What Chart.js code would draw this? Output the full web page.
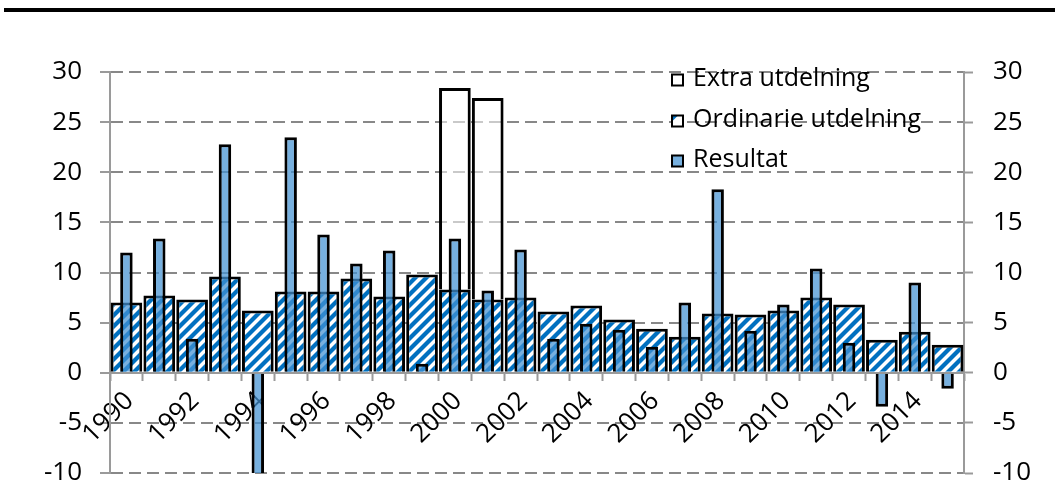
<!DOCTYPE html>
<html>
<head>
<meta charset="utf-8">
<script src="https://cdn.jsdelivr.net/npm/chart.js@4.4.1/dist/chart.umd.min.js"></script>
<style>
  html, body { margin: 0; padding: 0; background: #fff; }
  #wrap { position: relative; width: 1055px; height: 486px; overflow: hidden; }
  #rule { position: absolute; left: 4px; right: 0; top: 8px; height: 4px; background: #000; }
  #c { position: absolute; left: 0; top: 0; }
</style>
</head>
<body>
<div id="wrap">
  <div id="rule"></div>
  <canvas id="c" width="1055" height="486"></canvas>
</div>
<script>
// Years on the category axis
const years = [1990, 1991, 1992, 1993, 1994, 1995, 1996, 1997, 1998, 1999,
               2000, 2001, 2002, 2003, 2004, 2005, 2006, 2007, 2008, 2009,
               2010, 2011, 2012, 2013, 2014, 2015];

// Ordinary dividend, per cent
const ordinarie = [7.0, 7.7, 7.3, 9.6, 6.2, 8.1, 8.1, 9.4, 7.6, 9.8,
                   8.3, 7.3, 7.5, 6.1, 6.7, 5.3, 4.4, 3.6, 5.9, 5.8,
                   6.2, 7.5, 6.8, 3.3, 4.1, 2.8];

// Extra dividend, stacked on top of the ordinary one
const extra = [null, null, null, null, null, null, null, null, null, null,
               20.1, 20.1, null, null, null, null, null, null, null, null,
               null, null, null, null, null, null];

// Result
const resultat = [12.0, 13.4, 3.4, 22.8, -11.0, 23.5, 13.8, 10.9, 12.2, 0.9,
                  13.4, 8.2, 12.3, 3.4, 4.9, 4.3, 2.6, 7.0, 18.3, 4.2,
                  6.8, 10.4, 3.0, -3.4, 9.0, -1.6];

// Value axis tick labels (both sides)
const yTicks = [-10, -5, 0, 5, 10, 15, 20, 25, 30];

// Series names, in legend order
const seriesNames = ['Extra utdelning', 'Ordinarie utdelning', 'Resultat'];

const FONT = '"Open Sans", "Noto Sans", sans-serif';
const BLUE = '#0070C0';

// Diagonal blue/white hatch used for the ordinary dividend
function makeHatch() {
  const s = 11;
  const c = document.createElement('canvas');
  c.width = s; c.height = s;
  const g = c.getContext('2d');
  g.fillStyle = '#fff';
  g.fillRect(0, 0, s, s);
  g.strokeStyle = BLUE;
  g.lineWidth = 4.2;
  g.lineCap = 'square';
  for (const k of [-s, 0, s]) {
    g.beginPath();
    g.moveTo(k - 2, s + 2);
    g.lineTo(k + s + 2, -2);
    g.stroke();
  }
  return g.createPattern(c, 'repeat');
}
const hatch = makeHatch();

Chart.defaults.font.family = FONT;
Chart.defaults.font.size = 26;
Chart.defaults.color = '#000';

// Legend drawn inside the plot area, top right
const insideLegend = {
  id: 'insideLegend',
  afterDraw(chart) {
    const ctx = chart.ctx;
    const area = chart.chartArea;
    const bx = area.right - 292;
    const rows = [area.top + 7, area.top + 48, area.top + 88];
    const box = 11;
    ctx.save();
    seriesNames.forEach((name, i) => {
      const ds = chart.data.datasets.find(d => d.label === name);
      const cy = rows[i];
      const y0 = cy - box / 2 + 1;
      ctx.fillStyle = '#fff';
      ctx.fillRect(bx, y0, box, box);
      if (name === 'Ordinarie utdelning') {
        ctx.fillStyle = BLUE;
        ctx.beginPath();
        ctx.moveTo(bx, y0);
        ctx.lineTo(bx + 6, y0);
        ctx.lineTo(bx, y0 + 6);
        ctx.closePath();
        ctx.fill();
      } else {
        ctx.fillStyle = ds.backgroundColor;
        ctx.fillRect(bx, y0, box, box);
      }
      ctx.lineWidth = 2;
      ctx.strokeStyle = '#000';
      ctx.strokeRect(bx, y0, box, box);
      ctx.fillStyle = '#000';
      ctx.font = '25px ' + FONT;
      ctx.textBaseline = 'middle';
      ctx.textAlign = 'left';
      ctx.fillText(name, bx + 21, cy);
    });
    ctx.restore();
  }
};

function fixedWidth(w) {
  return scale => {
    scale.width = w;
    scale.paddingTop = 0;
    scale.paddingBottom = 0;
  };
}

new Chart(document.getElementById('c'), {
  type: 'bar',
  data: {
    labels: years,
    datasets: [
      {
        label: 'Resultat',
        data: resultat,
        backgroundColor: 'rgba(66,146,210,0.72)',
        borderColor: '#000',
        borderWidth: 3,
        barPercentage: 0.38,
        categoryPercentage: 1,
        grouped: false,
        stack: 'res',
        order: 0
      },
      {
        label: 'Ordinarie utdelning',
        data: ordinarie,
        backgroundColor: hatch,
        borderColor: '#000',
        borderWidth: 3,
        barPercentage: 0.965,
        categoryPercentage: 1,
        grouped: false,
        stack: 'utd',
        order: 1
      },
      {
        label: 'Extra utdelning',
        data: extra,
        backgroundColor: 'rgba(255,255,255,0.55)',
        borderColor: '#000',
        borderWidth: 3,
        barPercentage: 0.965,
        categoryPercentage: 1,
        grouped: false,
        stack: 'utd',
        order: 2
      }
    ]
  },
  options: {
    responsive: false,
    animation: false,
    devicePixelRatio: 1,
    layout: { padding: { top: 72, bottom: 13, left: 0, right: 0 } },
    plugins: { legend: { display: false }, tooltip: { enabled: false } },
    scales: {
      x: {
        position: { y: 0 },
        offset: true,
        grid: {
          offset: true,
          drawOnChartArea: false,
          drawTicks: true,
          tickLength: 7,
          tickColor: '#9a9a9a',
          tickWidth: 2,
          tickBorderDash: []
        },
        border: { display: true, color: '#9a9a9a', width: 2 },
        ticks: {
          autoSkip: false,
          minRotation: 45,
          maxRotation: 45,
          padding: 6,
          labelOffset: 3,
          color: '#000',
          font: { size: 26 },
          callback: (v, i) => (i % 2 === 0 ? String(years[i]) : '')
        },
        afterFit: scale => {
          scale.height = 0;
          scale.paddingLeft = 0;
          scale.paddingRight = 0;
        }
      },
      y: {
        position: 'left',
        stacked: true,
        min: yTicks[0],
        max: yTicks[yTicks.length - 1],
        afterBuildTicks: s => { s.ticks = yTicks.map(v => ({ value: v })); },
        grid: {
          color: '#888',
          lineWidth: 2,
          tickLength: 10,
          tickColor: '#9a9a9a',
          tickWidth: 2,
          tickBorderDash: []
        },
        border: { display: true, color: '#9a9a9a', width: 2, dash: [12, 6] },
        ticks: { padding: 18, color: '#000', font: { size: 26 } },
        afterFit: fixedWidth(110)
      },
      y2: {
        position: 'right',
        min: yTicks[0],
        max: yTicks[yTicks.length - 1],
        afterBuildTicks: s => { s.ticks = yTicks.map(v => ({ value: v })); },
        grid: {
          drawOnChartArea: false,
          tickLength: 9,
          tickColor: '#9a9a9a',
          tickWidth: 2,
          tickBorderDash: []
        },
        border: { display: true, color: '#9a9a9a', width: 2 },
        ticks: { padding: 20, color: '#000', font: { size: 26 } },
        afterFit: fixedWidth(91)
      }
    }
  },
  plugins: [insideLegend]
});
</script>
</body>
</html>
